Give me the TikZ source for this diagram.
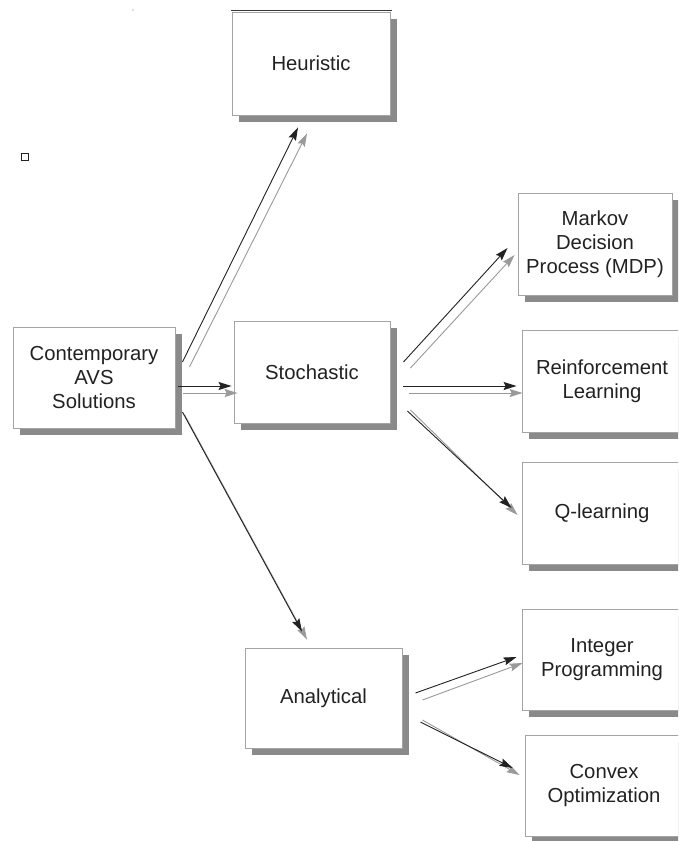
\documentclass[tikz,border=0pt]{standalone}
\usepackage{fontspec}
\setmainfont{Liberation Sans}
\usetikzlibrary{shadows,calc,arrows.meta}
\definecolor{edgegray}{HTML}{A4A4A4}
\definecolor{shadegray}{HTML}{8A8A8A}
\definecolor{inkdark}{HTML}{222222}
\definecolor{arrowgray}{HTML}{9A9A9A}
\tikzset{
  box/.style={draw=edgegray, line width=0.9pt, fill=white, align=center,
    text=inkdark, font=\fontsize{20.3}{24}\selectfont, inner sep=0pt,
    drop shadow={shadow xshift=7pt, shadow yshift=-7pt, fill=shadegray, opacity=1}},
  darr/.style={draw=inkdark, line width=0.9pt, -{Stealth[length=13pt,width=8pt,inset=2pt]}},
  garr/.style={draw=arrowgray, line width=0.9pt, arrowgray, -{Stealth[length=13pt,width=8pt,inset=2pt]}}
}
\begin{document}
\begin{tikzpicture}[x=1pt,y=-1pt]
\useasboundingbox (0,0) rectangle (678,841);
\clip (0,0) rectangle (678,841);
\fill[white] (0,0) rectangle (678,841);

% boxes
\node[box, minimum width=158pt, minimum height=103pt] (heur) at (311,63.5) {Heuristic};
\node[box, minimum width=162pt, minimum height=101pt] (avs) at (94,377.5) {Contemporary\\AVS\\Solutions};
\node[box, minimum width=156pt, minimum height=102pt] (stoch) at (312,372) {Stochastic};
\node[box, minimum width=157pt, minimum height=100pt] (anal) at (323.5,698) {Analytical};
\node[box, minimum width=154pt, minimum height=102pt] (mdp) at (595,244) {Markov\\Decision\\Process (MDP)};
\node[box, minimum width=160pt, minimum height=102pt] (rl) at (602,381) {Reinforcement\\Learning};
\node[box, minimum width=160pt, minimum height=102pt] (ql) at (602,513) {Q-learning};
\node[box, minimum width=160pt, minimum height=101pt] (ip) at (602,659.5) {Integer\\Programming};
\node[box, minimum width=158pt, minimum height=101pt] (cvx) at (604,785.5) {Convex\\Optimization};

% dark rule along the top of the Heuristic box
\draw[inkdark!90, line width=1.4pt] ($(heur.north west)+(-1,-1)$) -- ($(heur.north east)+(2,-1)$);

% small marks
\draw[inkdark, line width=0.9pt] (21,153) rectangle (28,160);
\fill[gray] (133,10) circle (0.6);

% connectors: gray echo first, dark arrow on top
\draw[garr] ($(avs.east)+(14,-10.5)$) -- ($(heur.south)+(-4,18)$);
\draw[darr] ($(avs.east)+(7,-15.5)$) -- ($(heur.south)+(-13,12)$);

\draw[garr] ($(avs.east)+(8,15.5)$) -- ($(stoch.west)+(4,21)$);
\draw[darr] ($(avs.east)+(3,8.5)$) -- ($(stoch.west)+(-2,14)$);

\draw[garr] ($(avs.east)+(9,37)$) -- ($(anal.north)+(-16.5,-8)$);
\draw[darr] ($(avs.east)+(7,34.5)$) -- ($(anal.north)+(-21.5,-16)$);

\draw[garr] ($(stoch.east)+(20,-4)$) -- ($(mdp.west)+(-3,11)$);
\draw[darr] ($(stoch.east)+(13,-10)$) -- ($(mdp.west)+(-10,4)$);

\draw[garr] ($(stoch.east)+(19,21)$) -- ($(rl.west)+(1,12)$);
\draw[darr] ($(stoch.east)+(13,14)$) -- ($(rl.west)+(-5,5)$);

\draw[garr] ($(stoch.east)+(20,38)$) -- ($(ql.west)+(-4,2)$);
\draw[darr] ($(stoch.east)+(17,39)$) -- ($(ql.west)+(-10,-5)$);

\draw[garr] ($(anal.east)+(20,2)$) -- ($(ip.west)+(1,3.5)$);
\draw[darr] ($(anal.east)+(13,-5)$) -- ($(ip.west)+(-5,-2.5)$);

\draw[garr] ($(anal.east)+(20,22)$) -- ($(cvx.west)+(-5,-10.5)$);
\draw[darr] ($(anal.east)+(18,24)$) -- ($(cvx.west)+(-12,-17.5)$);
\end{tikzpicture}
\end{document}
